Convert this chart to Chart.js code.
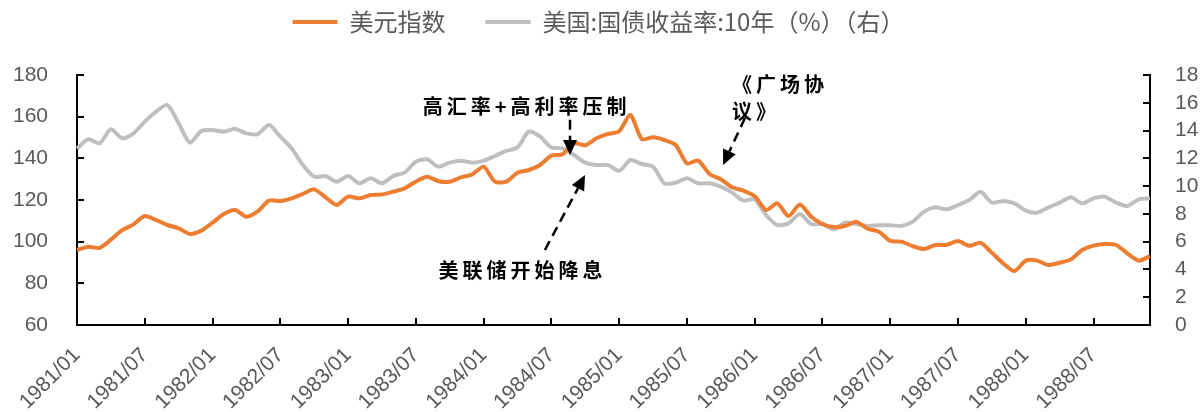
<!DOCTYPE html>
<html><head><meta charset="utf-8">
<script src="https://cdn.jsdelivr.net/npm/chart.js@4.4.1/dist/chart.umd.min.js"></script>
<style>html,body{margin:0;padding:0;background:#fff;}#wrap{width:1203px;height:412px;}</style>
</head><body><div id="wrap"><canvas id="c" width="1203" height="412"></canvas></div>
<script>
// ---- data ----
const years = [1981, 1982, 1983, 1984, 1985, 1986, 1987, 1988];
const monthNames = ['01','02','03','04','05','06','07','08','09','10','11','12'];
const categories = [];
years.forEach(y => monthNames.forEach(m => categories.push(y + '/' + m)));

const dollarIndex = [
  96, 97.6, 97, 101, 105.5, 108.3, 112.3, 110.4, 108, 106.4, 103.7, 105.3,
  109.1, 113.3, 115.2, 112, 114.5, 119.7, 119.5, 120.8, 122.9, 125.1, 121.3, 117.6,
  121.6, 120.8, 122.4, 122.7, 124, 125.6, 128.8, 131.2, 129, 128.8, 130.9, 132.3,
  136, 128.8, 128.8, 133.1, 134.4, 136.8, 141.3, 142, 147.3, 146.3, 149.6, 151.7,
  153, 160.8, 149.3, 150.1, 148.8, 146.4, 137.6, 138.9, 132.5, 130, 126.1, 124.5,
  121.9, 115.2, 118.4, 112.3, 117.8, 112, 108.5, 107, 107.5, 109.5, 106.2, 104.8,
  100.4, 100, 97.8, 96.5, 98.4, 98.5, 100.3, 98, 99.4, 94.7, 89.6, 85.9,
  90.9, 90.9, 88.8, 89.9, 91.5, 96, 98.1, 98.9, 98.4, 94.4, 90.9, 93.1
];
const treasury10y = [
  12.7, 13.37, 13.08, 14.09, 13.44, 13.8, 14.64, 15.36, 15.84, 14.52, 13.13, 13.97,
  14.04, 13.92, 14.11, 13.8, 13.75, 14.4, 13.56, 12.72, 11.52, 10.68, 10.73, 10.32,
  10.73, 10.2, 10.56, 10.2, 10.73, 10.97, 11.76, 11.93, 11.4, 11.69, 11.83, 11.69,
  11.83, 12.17, 12.53, 12.79, 13.92, 13.56, 12.79, 12.72, 12.24, 11.69, 11.52, 11.52,
  11.1, 11.88, 11.59, 11.4, 10.2, 10.25, 10.56, 10.2, 10.2, 9.96, 9.53, 8.95,
  9.05, 7.92, 7.2, 7.32, 8.0, 7.27, 7.27, 6.89, 7.37, 7.27, 7.13, 7.18,
  7.18, 7.13, 7.44, 8.16, 8.47, 8.33, 8.64, 9.0, 9.6, 8.81, 8.93, 8.76,
  8.23, 8.09, 8.47, 8.81, 9.19, 8.76, 9.12, 9.24, 8.81, 8.57, 9.05, 9.12
];
const leftTicks = [60, 80, 100, 120, 140, 160, 180];
const rightTicks = [0, 2, 4, 6, 8, 10, 12, 14, 16, 18];
const seriesNames = ['美元指数', '美国:国债收益率:10年（%）（右）'];

// annotations in data coordinates (category index, left-axis value)
const notes = [
  { lines: ['高汇率+高利率压制'], i: 39.8, v: 165.1, align: 'center' },
  { lines: ['美联储开始降息'], i: 39.44, v: 86.4, align: 'center' },
  { lines: ['《广场协', '议》'], i: 58.0, v: 175.7, align: 'left' }
];
const arrows = [
  { from: [43.65, 158.5], to: [43.65, 141.6] },
  { from: [41.43, 96], to: [44.98, 132] },
  { from: [59.14, 159.4], to: [57.2, 136.8] }
];

const ORANGE = '#ED7D31', GRAY = '#BFBFBF', TXT = '#595959';
Chart.defaults.font.family = "'Liberation Sans', Arial, sans-serif";

const legendTweak = {
  id: 'legendTweak',
  beforeLayout(chart) {
    const lg = chart.legend;
    if (lg && !lg._tw) {
      lg._tw = true;
      const f = lg.fit;
      lg.fit = function () { f.call(this); this.height = 75; };
      const d = lg.draw;
      lg.draw = function () { const c = this.ctx; c.save(); c.translate(-3, -30); d.call(this); c.restore(); };
    }
  }
};

const decor = {
  id: 'decor',
  afterDraw(chart) {
    const { ctx, chartArea: ca } = chart;
    const x = chart.scales.x, y = chart.scales.y, y1 = chart.scales.y1;
    ctx.save();
    ctx.strokeStyle = '#000';
    ctx.lineWidth = 2;
    const seg = (a, b, c, d) => { ctx.beginPath(); ctx.moveTo(a, b); ctx.lineTo(c, d); ctx.stroke(); };
    for (let i = 0; i < categories.length; i += 6) {
      const px = Math.round(x.getPixelForValue(i));
      seg(px, ca.bottom, px, ca.bottom - 7);
    }
    leftTicks.forEach(v => { const py = Math.round(y.getPixelForValue(v)); seg(ca.left, py, ca.left + 7, py); });
    rightTicks.forEach(v => { const py = Math.round(y1.getPixelForValue(v)); seg(ca.right, py, ca.right - 7, py); });

    // annotation text
    ctx.fillStyle = '#000';
    ctx.font = "bold 20px 'Noto Sans CJK SC'";
    ctx.textBaseline = 'middle';
    try { ctx.letterSpacing = '4px'; } catch (e) {}
    notes.forEach(n => {
      const px = x.getPixelForValue(n.i), py = y.getPixelForValue(n.v);
      n.lines.forEach((t, k) => {
        const w = ctx.measureText(t).width;
        const sx = n.align === 'center' ? px - w / 2 : px;
        ctx.textAlign = 'left';
        ctx.fillText(t, sx, py + k * 27);
      });
    });
    try { ctx.letterSpacing = '0px'; } catch (e) {}

    // arrows
    arrows.forEach(a => {
      const x0 = x.getPixelForValue(a.from[0]), y0 = y.getPixelForValue(a.from[1]);
      const x1 = x.getPixelForValue(a.to[0]), y1p = y.getPixelForValue(a.to[1]);
      const ang = Math.atan2(y1p - y0, x1 - x0);
      const L = 15, H = 7;
      const bx = x1 - L * Math.cos(ang), by = y1p - L * Math.sin(ang);
      ctx.setLineDash([10, 6]);
      ctx.lineWidth = 2.5;
      seg(x0, y0, bx, by);
      ctx.setLineDash([]);
      ctx.beginPath();
      ctx.moveTo(x1, y1p);
      ctx.lineTo(bx + H * Math.sin(ang), by - H * Math.cos(ang));
      ctx.lineTo(bx - H * Math.sin(ang), by + H * Math.cos(ang));
      ctx.closePath();
      ctx.fill();
    });
    ctx.restore();
  }
};

new Chart(document.getElementById('c'), {
  type: 'line',
  data: {
    labels: categories,
    datasets: [
      { label: seriesNames[0], data: dollarIndex, yAxisID: 'y', borderColor: ORANGE, backgroundColor: ORANGE, borderWidth: 4, pointRadius: 0, tension: 0.25, fill: false },
      { label: seriesNames[1], data: treasury10y, yAxisID: 'y1', borderColor: GRAY, backgroundColor: GRAY, borderWidth: 4, pointRadius: 0, tension: 0.25, fill: false }
    ]
  },
  options: {
    responsive: false,
    animation: false,
    devicePixelRatio: 1,
    layout: { padding: { left: 0, right: 0, top: 0, bottom: 0 } },
    plugins: {
      tooltip: { enabled: false },
      legend: {
        position: 'top',
        labels: {
          usePointStyle: true, pointStyle: 'line', pointStyleWidth: 45,
          padding: 40, color: TXT,
          font: { family: "'Noto Sans CJK SC'", size: 24 }
        }
      }
    },
    scales: {
      x: {
        type: 'category', offset: false,
        grid: { display: false, drawTicks: false },
        border: { display: true, color: '#000', width: 2 },
        ticks: {
          autoSkip: false, maxRotation: 45, minRotation: 45, color: TXT,
          font: { size: 21 }, padding: 18,
          callback: (v, i) => (i % 6 === 0 ? categories[i] : '')
        },
        afterFit: s => { s.height = 87; }
      },
      y: {
        position: 'left', min: 60, max: 180,
        grid: { display: false, drawTicks: false },
        border: { display: true, color: '#000', width: 2 },
        ticks: { autoSkip: false, stepSize: 20, color: TXT, font: { size: 21 }, padding: 29 },
        afterFit: s => { s.width = 77; }
      },
      y1: {
        position: 'right', min: 0, max: 18,
        grid: { display: false, drawTicks: false },
        border: { display: true, color: '#000', width: 2 },
        ticks: { autoSkip: false, stepSize: 2, color: TXT, font: { size: 21 }, padding: 25 },
        afterFit: s => { s.width = 53; }
      }
    }
  },
  plugins: [legendTweak, decor]
});
</script></body></html>
